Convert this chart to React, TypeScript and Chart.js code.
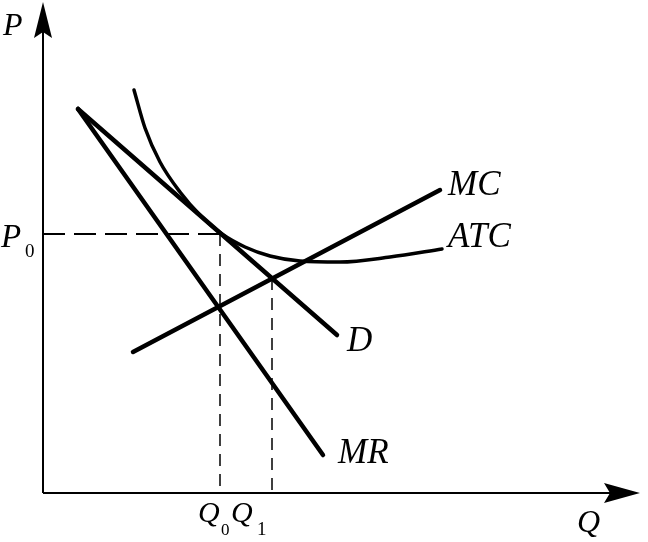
import React, { useEffect, useRef } from "react";
import { Chart, registerables } from "chart.js";

Chart.register(...registerables);

// Economic values (quantity Q, price P)
const dQ = [35, 294];
const dP = [384, 158];
const mrQ = [35, 280];
const mrP = [384, 38];
const mcQ = [90, 397];
const mcP = [141, 303];
const atcQ = [91, 102, 117, 137, 157, 179, 202, 227, 257, 297, 347, 399];
const atcP = [403, 365, 331, 301, 278, 259, 246, 237, 232, 231, 236, 244];
const P0 = 259;
const Q0 = 177;
const Q1 = 229;
const P1 = 215;
const axisMaxQ = 597;
const axisMaxP = 491;

const pts = (xs: number[], ys: number[]) => xs.map((x, i) => ({ x, y: ys[i] }));

const axesPlugin = {
  id: "econAxes",
  afterDatasetsDraw(chart: any) {
    const ctx = chart.ctx;
    const xs = chart.scales.x;
    const ys = chart.scales.y;
    const ox = xs.getPixelForValue(0);
    const oy = ys.getPixelForValue(0);
    const tx = xs.getPixelForValue(axisMaxQ);
    const ty = ys.getPixelForValue(axisMaxP);
    ctx.save();
    ctx.strokeStyle = "#000";
    ctx.fillStyle = "#000";
    ctx.lineWidth = 2;
    ctx.beginPath();
    ctx.moveTo(ox, oy);
    ctx.lineTo(ox, ty + 20);
    ctx.moveTo(ox, oy);
    ctx.lineTo(tx - 20, oy);
    ctx.stroke();
    // y arrow
    ctx.beginPath();
    ctx.moveTo(ox, ty);
    ctx.lineTo(ox + 9, ty + 36);
    ctx.lineTo(ox, ty + 30);
    ctx.lineTo(ox - 9, ty + 36);
    ctx.closePath();
    ctx.fill();
    // x arrow
    ctx.beginPath();
    ctx.moveTo(tx, oy);
    ctx.lineTo(tx - 36, oy + 10);
    ctx.lineTo(tx - 30, oy);
    ctx.lineTo(tx - 36, oy - 10);
    ctx.closePath();
    ctx.fill();

    const serif = '"Liberation Serif", "Times New Roman", serif';
    const txt = (s: string, x: number, y: number, size: number, italic = true) => {
      ctx.font = `${italic ? "italic " : ""}${size}px ${serif}`;
      ctx.textAlign = "left";
      ctx.textBaseline = "alphabetic";
      ctx.fillText(s, x, y);
    };
    // axis labels
    txt("P", ox - 40, ty + 33, 32);
    txt("Q", tx - 63, oy + 39, 32);
    // P0
    const p0y = ys.getPixelForValue(P0);
    txt("P", ox - 42, p0y + 13, 33);
    txt("0", ox - 18, p0y + 23, 19, false);
    // Q0, Q1
    const q0x = xs.getPixelForValue(Q0);
    const q1x = xs.getPixelForValue(Q1);
    txt("Q", q0x - 22, oy + 29, 30);
    txt("0", q0x + 1, oy + 42, 17, false);
    txt("Q", q1x - 41, oy + 29, 30);
    txt("1", q1x - 15, oy + 42, 19, false);
    // curve labels
    const lab = (s: string, q: number, p: number, dx: number, dy: number) => {
      txt(s, xs.getPixelForValue(q) + dx, ys.getPixelForValue(p) + dy, 35);
    };
    lab("MC", mcQ[1], mcP[1], 8, 5);
    lab("ATC", atcQ[atcQ.length - 1], atcP[atcP.length - 1], 6, -2);
    lab("D", dQ[1], dP[1], 10, 16);
    lab("MR", mrQ[1], mrP[1], 15, 8);
    ctx.restore();
  },
};

export default function App() {
  const ref = useRef<HTMLCanvasElement>(null);
  useEffect(() => {
    if (!ref.current) return;
    const solid = {
      showLine: true,
      borderColor: "#000",
      borderWidth: 4.5,
      pointRadius: 0,
      borderCapStyle: "round" as const,
      borderJoinStyle: "round" as const,
      fill: false,
    };
    const dashed = {
      showLine: true,
      borderColor: "#000",
      borderWidth: 2,
      pointRadius: 0,
      fill: false,
    };
    const chart = new Chart(ref.current, {
      type: "scatter",
      data: {
        datasets: [
          { ...solid, label: "D", data: pts(dQ, dP) },
          { ...solid, label: "MR", data: pts(mrQ, mrP) },
          { ...solid, label: "MC", data: pts(mcQ, mcP) },
          { ...solid, label: "ATC", data: pts(atcQ, atcP), cubicInterpolationMode: "monotone", borderWidth: 3.5 },
          { ...dashed, label: "P0", data: [{ x: 0, y: P0 }, { x: Q0, y: P0 }], borderDash: [22, 9] },
          { ...dashed, label: "Q0", data: [{ x: Q0, y: P0 }, { x: Q0, y: 0 }], borderDash: [12, 8], borderWidth: 1.5 },
          { ...dashed, label: "Q1", data: [{ x: Q1, y: P1 }, { x: Q1, y: 0 }], borderDash: [12, 8], borderWidth: 1.5 },
        ],
      },
      options: {
        responsive: false,
        animation: false,
        layout: { padding: 0 },
        plugins: { legend: { display: false }, tooltip: { enabled: false } },
        scales: {
          x: { type: "linear", min: -43, max: 605, display: false },
          y: { type: "linear", min: -49, max: 493, display: false },
        },
      },
      plugins: [axesPlugin],
    });
    return () => chart.destroy();
  }, []);
  return (
    <div style={{ position: "absolute", left: 0, top: 0, width: 648, height: 542, background: "#fff" }}>
      <canvas ref={ref} width={648} height={542} />
    </div>
  );
}
